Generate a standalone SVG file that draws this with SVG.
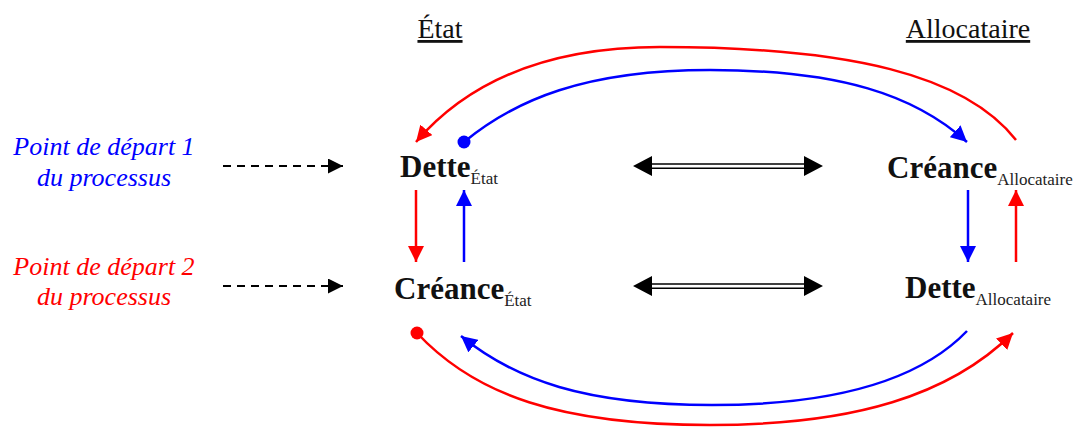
<svg xmlns="http://www.w3.org/2000/svg" width="1075" height="429" viewBox="0 0 1075 429" font-family="'Liberation Serif', 'Times New Roman', serif">
<defs>
<style>
.title{font-family:'Liberation Serif',serif;font-size:28px;fill:#111;text-decoration:underline;}
.main{font-family:'Liberation Serif',serif;font-size:31px;font-weight:bold;fill:#111;}
.sub{font-family:'Liberation Serif',serif;font-size:17px;font-weight:normal;fill:#222;}
.start{font-family:'Liberation Serif',serif;font-size:26px;font-style:italic;text-anchor:middle;}
.red{stroke:#ff0000;fill:none;stroke-width:2.5;}
.blue{stroke:#0000ff;fill:none;stroke-width:2.5;}
.dash{stroke:#000;fill:none;stroke-width:2.2;stroke-dasharray:8,6;}
.dbl{stroke:#000;fill:none;stroke-width:1.6;}
</style>
<marker id="ar" viewBox="0 0 10 10" refX="10" refY="5" markerWidth="16" markerHeight="16" markerUnits="userSpaceOnUse" orient="auto"><path d="M0,0 L10,5 L0,10 Z" fill="#ff0000"/></marker>
<marker id="ab" viewBox="0 0 10 10" refX="10" refY="5" markerWidth="16" markerHeight="16" markerUnits="userSpaceOnUse" orient="auto"><path d="M0,0 L10,5 L0,10 Z" fill="#0000ff"/></marker>
<marker id="ak" viewBox="0 0 10 10" refX="10" refY="5" markerWidth="15" markerHeight="15" markerUnits="userSpaceOnUse" orient="auto"><path d="M0,0 L10,5 L0,10 Z" fill="#000"/></marker>
</defs>

<g id="title-etat"><text class="title" x="440" y="38" text-anchor="middle">État</text></g>
<g id="title-allocataire"><text class="title" x="968" y="38" text-anchor="middle">Allocataire</text></g>

<g id="start1"><text class="start" x="104" y="155" fill="#0000ff">Point de départ 1</text><text class="start" x="104" y="186" fill="#0000ff">du processus</text></g>
<g id="start2"><text class="start" x="104" y="275" fill="#ff0000">Point de départ 2</text><text class="start" x="104" y="305" fill="#ff0000">du processus</text></g>

<g id="dette-etat"><text class="main" x="400" y="177">Dette<tspan class="sub" dy="7">État</tspan></text></g>
<g id="creance-allocataire"><text class="main" x="887" y="178">Créance<tspan class="sub" dy="7">Allocataire</tspan></text></g>
<g id="creance-etat"><text class="main" x="394" y="299">Créance<tspan class="sub" dy="7">État</tspan></text></g>
<g id="dette-allocataire"><text class="main" x="905" y="298">Dette<tspan class="sub" dy="7">Allocataire</tspan></text></g>

<g id="connectors">
<path class="dash" d="M223,166 L343,166" marker-end="url(#ak)"/>
<path class="dash" d="M223,286 L343,286" marker-end="url(#ak)"/>

<g id="double1">
<path class="dbl" d="M650,164 L806,164 M650,168.3 L806,168.3"/>
<path d="M633,166 L652,156 L652,176 Z M823,166 L804,156 L804,176 Z" fill="#000"/>
</g>
<g id="double2">
<path class="dbl" d="M650,284 L806,284 M650,288.3 L806,288.3"/>
<path d="M633,286 L652,276 L652,296 Z M823,286 L804,276 L804,296 Z" fill="#000"/>
</g>

<path class="red" d="M416,190 L416,262" marker-end="url(#ar)"/>
<path class="blue" d="M464,262 L464,190" marker-end="url(#ab)"/>
<path class="blue" d="M968,190 L968,262" marker-end="url(#ab)"/>
<path class="red" d="M1016,262 L1016,190" marker-end="url(#ar)"/>

<path class="red" d="M1016,140 C965,75 850,47 660,47 C540,47 465,85 416,142" marker-end="url(#ar)"/>
<circle cx="464" cy="142" r="6.5" fill="#0000ff"/>
<path class="blue" d="M464,142 C515,100 585,70 710,70 C840,70 915,95 967,142" marker-end="url(#ab)"/>

<circle cx="417" cy="333" r="6.5" fill="#ff0000"/>
<path class="red" d="M417,333 C475,395 560,425 710,425 C855,425 950,395 1013,333" marker-end="url(#ar)"/>
<path class="blue" d="M967,331 C920,380 835,405 712,405 C585,405 515,380 461,336" marker-end="url(#ab)"/>
</g>
</svg>
